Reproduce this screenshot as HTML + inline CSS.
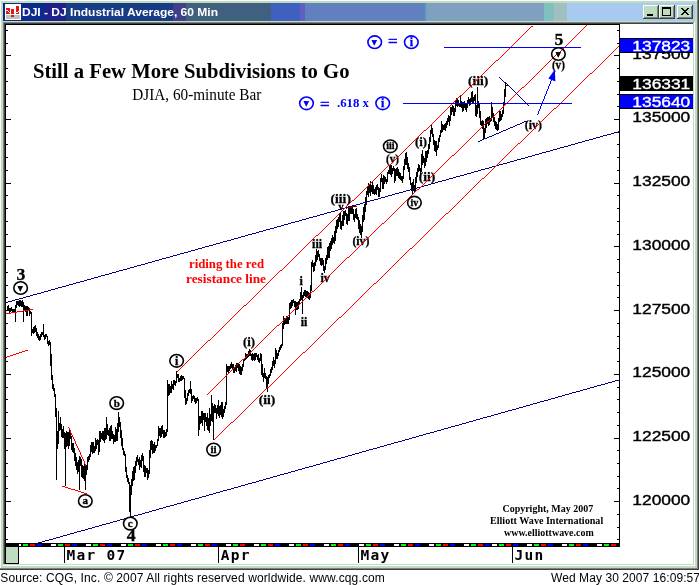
<!DOCTYPE html>
<html lang="en"><head><meta charset="utf-8"><title>DJI - DJ Industrial Average, 60 Min</title>
<style>
html,body{margin:0;padding:0;background:#fff;}
body{width:699px;height:585px;overflow:hidden;}
svg{display:block;}
text{white-space:pre;}
.sans{font-family:"Liberation Sans",Arial,sans-serif;}
.serif{font-family:"Liberation Serif","Times New Roman",serif;}
.mono{font-family:"Liberation Mono","DejaVu Sans Mono",monospace;}
.b{font-weight:bold;}
.monob{font-family:"DejaVu Sans Mono","Liberation Mono",monospace;font-weight:bold;}
</style></head><body>
<svg width="699" height="585" viewBox="0 0 699 585">
<g shape-rendering="crispEdges">
<rect x="0" y="0" width="699" height="585" fill="#ffffff" />
<rect x="0" y="0" width="699" height="570" fill="#c0dcc0" />
<rect x="0" y="0" width="699" height="1" fill="#ffffff" />
<rect x="0" y="0" width="1" height="569" fill="#ffffff" />
<rect x="697" y="0" width="1" height="570" fill="#808080" />
<rect x="698" y="0" width="1" height="570" fill="#404040" />
<rect x="0" y="568" width="698" height="1" fill="#808080" />
<rect x="0" y="569" width="699" height="1" fill="#404040" />
<rect x="0" y="570" width="699" height="15" fill="#ffffff" />
<rect x="3" y="22" width="692" height="544" fill="#ffffff" />
<rect x="3" y="22" width="691" height="1" fill="#808080" />
<rect x="3" y="22" width="1" height="543" fill="#808080" />
<rect x="4" y="23" width="689" height="1" fill="#404040" />
<rect x="4" y="23" width="1" height="541" fill="#404040" />
<rect x="3" y="564" width="691" height="1" fill="#c0dcc0" />
<rect x="693" y="23" width="1" height="542" fill="#c0dcc0" />
<rect x="5" y="24" width="615" height="1" fill="#000000" />
<rect x="5" y="24" width="1" height="540" fill="#000000" />
<rect x="3" y="3" width="42" height="18" fill="#0c2a8c" />
<rect x="45" y="3" width="21" height="18" fill="#20208c" />
<rect x="66" y="3" width="107" height="18" fill="#183c84" />
<rect x="173" y="3" width="13" height="18" fill="#404088" />
<rect x="186" y="3" width="85" height="18" fill="#406080" />
<rect x="271" y="3" width="29" height="18" fill="#4060c0" />
<rect x="300" y="3" width="5" height="18" fill="#6060c0" />
<rect x="305" y="3" width="120" height="18" fill="#6080c0" />
<rect x="425" y="3" width="2" height="18" fill="#60a0c0" />
<rect x="427" y="3" width="117" height="18" fill="#80a0c0" />
<rect x="544" y="3" width="10" height="18" fill="#80c0c0" />
<rect x="554" y="3" width="13" height="18" fill="#a0c0c0" />
<rect x="567" y="3" width="128" height="18" fill="#a6caf0" />
</g>
<g shape-rendering="crispEdges">
<rect x="5" y="4" width="16" height="16" fill="#ffffff" />
<rect x="6" y="15" width="14" height="4" fill="#c0c0c0" />
<rect x="6" y="8" width="4" height="6" fill="#e01818" />
<rect x="11" y="9" width="3" height="5" fill="#e01818" />
<rect x="16" y="6" width="3" height="8" fill="#e01818" />
<rect x="11" y="15" width="3" height="2" fill="#e01818" />
<rect x="6" y="10" width="2" height="1" fill="#e8f4e8" />
<rect x="8" y="11" width="1" height="1" fill="#e8f4e8" />
<rect x="9" y="12" width="1" height="1" fill="#e8f4e8" />
<rect x="10" y="13" width="1" height="1" fill="#e8f4e8" />
<rect x="11" y="14" width="3" height="1" fill="#e8f4e8" />
<rect x="14" y="13" width="2" height="1" fill="#e8f4e8" />
<rect x="16" y="12" width="2" height="1" fill="#e8f4e8" />
<rect x="18" y="11" width="2" height="1" fill="#e8f4e8" />
</g>
<text x="22" y="16" class="sans b" font-size="11.3" fill="#ffffff" textLength="196" lengthAdjust="spacingAndGlyphs">DJI - DJ Industrial Average, 60 Min</text>
<g shape-rendering="crispEdges">
<rect x="643" y="5" width="16" height="14" fill="#404040" />
<rect x="643" y="5" width="15" height="13" fill="#ffffff" />
<rect x="644" y="6" width="14" height="12" fill="#808080" />
<rect x="644" y="6" width="13" height="11" fill="#c0dcc0" />
</g>
<g shape-rendering="crispEdges">
<rect x="659" y="5" width="16" height="14" fill="#404040" />
<rect x="659" y="5" width="15" height="13" fill="#ffffff" />
<rect x="660" y="6" width="14" height="12" fill="#808080" />
<rect x="660" y="6" width="13" height="11" fill="#c0dcc0" />
</g>
<g shape-rendering="crispEdges">
<rect x="677" y="5" width="16" height="14" fill="#404040" />
<rect x="677" y="5" width="15" height="13" fill="#ffffff" />
<rect x="678" y="6" width="14" height="12" fill="#808080" />
<rect x="678" y="6" width="13" height="11" fill="#c0dcc0" />
</g>
<g shape-rendering="crispEdges">
<rect x="647" y="14" width="6" height="2" fill="#000" />
<rect x="662" y="7" width="9" height="9" fill="#000" />
<rect x="663" y="9" width="7" height="6" fill="#c0dcc0" />
</g>
<g shape-rendering="crispEdges">
<rect x="681" y="8" width="2" height="1" fill="#000" />
<rect x="687" y="8" width="2" height="1" fill="#000" />
<rect x="682" y="9" width="2" height="1" fill="#000" />
<rect x="686" y="9" width="2" height="1" fill="#000" />
<rect x="683" y="10" width="4" height="1" fill="#000" />
<rect x="684" y="11" width="2" height="1" fill="#000" />
<rect x="683" y="12" width="4" height="1" fill="#000" />
<rect x="682" y="13" width="2" height="1" fill="#000" />
<rect x="686" y="13" width="2" height="1" fill="#000" />
<rect x="681" y="14" width="2" height="1" fill="#000" />
<rect x="687" y="14" width="2" height="1" fill="#000" />
</g>
<g shape-rendering="crispEdges">
<rect x="619" y="24" width="1" height="523" fill="#000" />
<rect x="617" y="539" width="2" height="1" fill="#000" />
<rect x="6" y="539" width="2" height="1" fill="#000" />
<rect x="617" y="527" width="2" height="1" fill="#000" />
<rect x="6" y="527" width="2" height="1" fill="#000" />
<rect x="617" y="514" width="2" height="1" fill="#000" />
<rect x="6" y="514" width="2" height="1" fill="#000" />
<rect x="614" y="501" width="5" height="1" fill="#000" />
<rect x="6" y="501" width="5" height="1" fill="#000" />
<rect x="617" y="488" width="2" height="1" fill="#000" />
<rect x="6" y="488" width="2" height="1" fill="#000" />
<rect x="617" y="476" width="2" height="1" fill="#000" />
<rect x="6" y="476" width="2" height="1" fill="#000" />
<rect x="617" y="463" width="2" height="1" fill="#000" />
<rect x="6" y="463" width="2" height="1" fill="#000" />
<rect x="617" y="450" width="2" height="1" fill="#000" />
<rect x="6" y="450" width="2" height="1" fill="#000" />
<rect x="614" y="438" width="5" height="1" fill="#000" />
<rect x="6" y="438" width="5" height="1" fill="#000" />
<rect x="617" y="425" width="2" height="1" fill="#000" />
<rect x="6" y="425" width="2" height="1" fill="#000" />
<rect x="617" y="412" width="2" height="1" fill="#000" />
<rect x="6" y="412" width="2" height="1" fill="#000" />
<rect x="617" y="399" width="2" height="1" fill="#000" />
<rect x="6" y="399" width="2" height="1" fill="#000" />
<rect x="617" y="387" width="2" height="1" fill="#000" />
<rect x="6" y="387" width="2" height="1" fill="#000" />
<rect x="614" y="374" width="5" height="1" fill="#000" />
<rect x="6" y="374" width="5" height="1" fill="#000" />
<rect x="617" y="361" width="2" height="1" fill="#000" />
<rect x="6" y="361" width="2" height="1" fill="#000" />
<rect x="617" y="348" width="2" height="1" fill="#000" />
<rect x="6" y="348" width="2" height="1" fill="#000" />
<rect x="617" y="336" width="2" height="1" fill="#000" />
<rect x="6" y="336" width="2" height="1" fill="#000" />
<rect x="617" y="323" width="2" height="1" fill="#000" />
<rect x="6" y="323" width="2" height="1" fill="#000" />
<rect x="614" y="310" width="5" height="1" fill="#000" />
<rect x="6" y="310" width="5" height="1" fill="#000" />
<rect x="617" y="297" width="2" height="1" fill="#000" />
<rect x="6" y="297" width="2" height="1" fill="#000" />
<rect x="617" y="285" width="2" height="1" fill="#000" />
<rect x="6" y="285" width="2" height="1" fill="#000" />
<rect x="617" y="272" width="2" height="1" fill="#000" />
<rect x="6" y="272" width="2" height="1" fill="#000" />
<rect x="617" y="259" width="2" height="1" fill="#000" />
<rect x="6" y="259" width="2" height="1" fill="#000" />
<rect x="614" y="246" width="5" height="1" fill="#000" />
<rect x="6" y="246" width="5" height="1" fill="#000" />
<rect x="617" y="234" width="2" height="1" fill="#000" />
<rect x="6" y="234" width="2" height="1" fill="#000" />
<rect x="617" y="221" width="2" height="1" fill="#000" />
<rect x="6" y="221" width="2" height="1" fill="#000" />
<rect x="617" y="208" width="2" height="1" fill="#000" />
<rect x="6" y="208" width="2" height="1" fill="#000" />
<rect x="617" y="195" width="2" height="1" fill="#000" />
<rect x="6" y="195" width="2" height="1" fill="#000" />
<rect x="614" y="183" width="5" height="1" fill="#000" />
<rect x="6" y="183" width="5" height="1" fill="#000" />
<rect x="617" y="170" width="2" height="1" fill="#000" />
<rect x="6" y="170" width="2" height="1" fill="#000" />
<rect x="617" y="157" width="2" height="1" fill="#000" />
<rect x="6" y="157" width="2" height="1" fill="#000" />
<rect x="617" y="144" width="2" height="1" fill="#000" />
<rect x="6" y="144" width="2" height="1" fill="#000" />
<rect x="617" y="132" width="2" height="1" fill="#000" />
<rect x="6" y="132" width="2" height="1" fill="#000" />
<rect x="614" y="119" width="5" height="1" fill="#000" />
<rect x="6" y="119" width="5" height="1" fill="#000" />
<rect x="617" y="106" width="2" height="1" fill="#000" />
<rect x="6" y="106" width="2" height="1" fill="#000" />
<rect x="617" y="94" width="2" height="1" fill="#000" />
<rect x="6" y="94" width="2" height="1" fill="#000" />
<rect x="617" y="81" width="2" height="1" fill="#000" />
<rect x="6" y="81" width="2" height="1" fill="#000" />
<rect x="617" y="68" width="2" height="1" fill="#000" />
<rect x="6" y="68" width="2" height="1" fill="#000" />
<rect x="614" y="55" width="5" height="1" fill="#000" />
<rect x="6" y="55" width="5" height="1" fill="#000" />
<rect x="617" y="43" width="2" height="1" fill="#000" />
<rect x="6" y="43" width="2" height="1" fill="#000" />
<rect x="617" y="30" width="2" height="1" fill="#000" />
<rect x="6" y="30" width="2" height="1" fill="#000" />
<rect x="5" y="543" width="615" height="4" fill="#000" />
<rect x="19" y="544" width="2" height="2" fill="#ffffff" />
<rect x="23" y="544" width="5" height="2" fill="#00ff00" />
<rect x="30" y="544" width="5" height="2" fill="#ff0000" />
<rect x="37" y="544" width="5" height="2" fill="#0000ff" />
<rect x="51" y="544" width="5" height="2" fill="#ffffff" />
<rect x="58" y="544" width="5" height="2" fill="#00ff00" />
<rect x="65" y="544" width="5" height="2" fill="#ff0000" />
<rect x="72" y="544" width="5" height="2" fill="#0000ff" />
<rect x="86" y="544" width="5" height="2" fill="#ffffff" />
<rect x="93" y="544" width="5" height="2" fill="#00ff00" />
<rect x="100" y="544" width="5" height="2" fill="#ff0000" />
<rect x="107" y="544" width="5" height="2" fill="#0000ff" />
<rect x="121" y="544" width="5" height="2" fill="#ffffff" />
<rect x="128" y="544" width="5" height="2" fill="#00ff00" />
<rect x="135" y="544" width="5" height="2" fill="#ff0000" />
<rect x="142" y="544" width="5" height="2" fill="#0000ff" />
<rect x="156" y="544" width="5" height="2" fill="#ffffff" />
<rect x="163" y="544" width="5" height="2" fill="#00ff00" />
<rect x="170" y="544" width="5" height="2" fill="#ff0000" />
<rect x="177" y="544" width="5" height="2" fill="#0000ff" />
<rect x="191" y="544" width="5" height="2" fill="#ffffff" />
<rect x="198" y="544" width="5" height="2" fill="#00ff00" />
<rect x="205" y="544" width="5" height="2" fill="#ff0000" />
<rect x="212" y="544" width="5" height="2" fill="#0000ff" />
<rect x="226" y="544" width="5" height="2" fill="#ffffff" />
<rect x="233" y="544" width="5" height="2" fill="#00ff00" />
<rect x="240" y="544" width="5" height="2" fill="#ff0000" />
<rect x="254" y="544" width="5" height="2" fill="#ffffff" />
<rect x="261" y="544" width="5" height="2" fill="#00ff00" />
<rect x="268" y="544" width="5" height="2" fill="#ff0000" />
<rect x="275" y="544" width="5" height="2" fill="#0000ff" />
<rect x="289" y="544" width="5" height="2" fill="#ffffff" />
<rect x="296" y="544" width="5" height="2" fill="#00ff00" />
<rect x="303" y="544" width="5" height="2" fill="#ff0000" />
<rect x="310" y="544" width="5" height="2" fill="#0000ff" />
<rect x="324" y="544" width="5" height="2" fill="#ffffff" />
<rect x="331" y="544" width="5" height="2" fill="#00ff00" />
<rect x="338" y="544" width="5" height="2" fill="#ff0000" />
<rect x="345" y="544" width="5" height="2" fill="#0000ff" />
<rect x="359" y="544" width="5" height="2" fill="#ffffff" />
<rect x="366" y="544" width="5" height="2" fill="#00ff00" />
<rect x="373" y="544" width="5" height="2" fill="#ff0000" />
<rect x="380" y="544" width="5" height="2" fill="#0000ff" />
<rect x="394" y="544" width="5" height="2" fill="#ffffff" />
<rect x="401" y="544" width="5" height="2" fill="#00ff00" />
<rect x="408" y="544" width="5" height="2" fill="#ff0000" />
<rect x="415" y="544" width="5" height="2" fill="#0000ff" />
<rect x="429" y="544" width="5" height="2" fill="#ffffff" />
<rect x="436" y="544" width="5" height="2" fill="#00ff00" />
<rect x="443" y="544" width="5" height="2" fill="#ff0000" />
<rect x="450" y="544" width="5" height="2" fill="#0000ff" />
<rect x="464" y="544" width="5" height="2" fill="#ffffff" />
<rect x="471" y="544" width="5" height="2" fill="#00ff00" />
<rect x="478" y="544" width="5" height="2" fill="#ff0000" />
<rect x="485" y="544" width="5" height="2" fill="#0000ff" />
<rect x="492" y="544" width="5" height="2" fill="#ffffff" />
<rect x="499" y="544" width="5" height="2" fill="#00ff00" />
<rect x="506" y="544" width="5" height="2" fill="#ff0000" />
<rect x="513" y="544" width="5" height="2" fill="#0000ff" />
<rect x="527" y="544" width="5" height="2" fill="#ffffff" />
<rect x="534" y="544" width="5" height="2" fill="#00ff00" />
<rect x="541" y="544" width="5" height="2" fill="#ff0000" />
<rect x="548" y="544" width="5" height="2" fill="#0000ff" />
<rect x="562" y="544" width="5" height="2" fill="#ffffff" />
<rect x="569" y="544" width="5" height="2" fill="#00ff00" />
<rect x="576" y="544" width="5" height="2" fill="#ff0000" />
<rect x="583" y="544" width="5" height="2" fill="#0000ff" />
<rect x="597" y="544" width="5" height="2" fill="#ffffff" />
<rect x="604" y="544" width="5" height="2" fill="#00ff00" />
<rect x="611" y="544" width="5" height="2" fill="#ff0000" />
<rect x="6" y="547" width="13" height="17" fill="#000" />
<rect x="6" y="547" width="12" height="16" fill="#c0dcc0" />
<rect x="64" y="547" width="1" height="16" fill="#000" />
<rect x="218" y="547" width="1" height="16" fill="#000" />
<rect x="358" y="547" width="1" height="16" fill="#000" />
<rect x="512" y="547" width="1" height="16" fill="#000" />
</g>
<text x="66.5" y="559.6" class="monob" font-size="14.5" fill="#000" letter-spacing="1.25">Mar 07</text>
<text x="220.7" y="559.6" class="monob" font-size="14.5" fill="#000" letter-spacing="1.25">Apr</text>
<text x="360.5" y="559.6" class="monob" font-size="14.5" fill="#000" letter-spacing="1.25">May</text>
<text x="514.5" y="559.6" class="monob" font-size="14.5" fill="#000" letter-spacing="1.25">Jun</text>
<text x="632.3" y="122.4" class="sans" font-size="15.5" fill="#000" stroke="#000" stroke-width="0.4" textLength="58" lengthAdjust="spacingAndGlyphs">135000</text>
<text x="632.3" y="186.1" class="sans" font-size="15.5" fill="#000" stroke="#000" stroke-width="0.4" textLength="58" lengthAdjust="spacingAndGlyphs">132500</text>
<text x="632.3" y="249.8" class="sans" font-size="15.5" fill="#000" stroke="#000" stroke-width="0.4" textLength="58" lengthAdjust="spacingAndGlyphs">130000</text>
<text x="632.3" y="313.5" class="sans" font-size="15.5" fill="#000" stroke="#000" stroke-width="0.4" textLength="58" lengthAdjust="spacingAndGlyphs">127500</text>
<text x="632.3" y="377.2" class="sans" font-size="15.5" fill="#000" stroke="#000" stroke-width="0.4" textLength="58" lengthAdjust="spacingAndGlyphs">125000</text>
<text x="632.3" y="440.9" class="sans" font-size="15.5" fill="#000" stroke="#000" stroke-width="0.4" textLength="58" lengthAdjust="spacingAndGlyphs">122500</text>
<text x="632.3" y="504.6" class="sans" font-size="15.5" fill="#000" stroke="#000" stroke-width="0.4" textLength="58" lengthAdjust="spacingAndGlyphs">120000</text>
<text x="632.3" y="58.7" class="sans" font-size="15.5" fill="#000" stroke="#000" stroke-width="0.4" textLength="58" lengthAdjust="spacingAndGlyphs">137500</text>
<g shape-rendering="crispEdges">
<rect x="620" y="38" width="73" height="15" fill="#000" />
<rect x="620" y="39" width="73" height="13" fill="#0000ff" />
<rect x="620" y="76" width="73" height="15" fill="#000" />
<rect x="620" y="94" width="73" height="15" fill="#000" />
<rect x="620" y="95" width="73" height="13" fill="#0000ff" />
</g>
<text x="632.3" y="51.1" class="sans" font-size="15.5" fill="#fff" stroke="#fff" stroke-width="0.4" textLength="58" lengthAdjust="spacingAndGlyphs">137823</text>
<text x="632.3" y="89.1" class="sans" font-size="15.5" fill="#fff" stroke="#fff" stroke-width="0.4" textLength="58" lengthAdjust="spacingAndGlyphs">136331</text>
<text x="632.3" y="107.1" class="sans" font-size="15.5" fill="#fff" stroke="#fff" stroke-width="0.4" textLength="58" lengthAdjust="spacingAndGlyphs">135640</text>
<text x="0.3" y="581.5" class="sans" font-size="12" fill="#000" textLength="384.5">Source: CQG, Inc. © 2007 All rights reserved worldwide. www.cqg.com</text>
<text x="551" y="581.5" class="sans" font-size="12" fill="#000" textLength="149">Wed May 30 2007 16:09:57</text>
<defs><clipPath id="plot"><rect x="6" y="25" width="613" height="518"/></clipPath></defs>
<g clip-path="url(#plot)">
<path stroke="#000" stroke-width="1" fill="none" shape-rendering="crispEdges" d="M7.5 306V311M8.5 305V311M9.5 308V313M10.5 308V312M11.5 307V311M12.5 309V312M13.5 309V313M14.5 309V313M15.5 305V322M16.5 301V308M17.5 301V305M18.5 301V306M19.5 300V307M20.5 300V306M21.5 301V307M22.5 300V307M23.5 302V322M24.5 305V310M25.5 306V312M26.5 306V316M27.5 306V316M28.5 307V311M29.5 308V316M30.5 311V314M31.5 312V336M32.5 329V333M33.5 327V334M34.5 326V333M35.5 325V332M36.5 328V336M37.5 332V338M38.5 334V340M39.5 336V341M40.5 334V340M41.5 332V337M42.5 332V335M43.5 324V337M44.5 335V340M45.5 334V339M46.5 334V337M47.5 336V344M48.5 341V346M49.5 340V345M50.5 342V366M51.5 354V380M52.5 375V389M53.5 384V391M54.5 388V397M55.5 394V417M56.5 408V480M57.5 431V449M58.5 411V444M59.5 423V431M60.5 417V430M61.5 424V437M62.5 429V438M63.5 426V438M64.5 432V449M65.5 433V486M66.5 431V447M67.5 432V446M68.5 432V449M69.5 429V446M70.5 433V439M71.5 436V450M72.5 443V452M73.5 443V453M74.5 448V461M75.5 453V466M76.5 457V470M77.5 462V474M78.5 460V472M79.5 456V490M80.5 457V466M81.5 459V477M82.5 465V478M83.5 466V479M84.5 464V481M85.5 464V490M86.5 465V475M87.5 457V470M88.5 456V462M89.5 454V460M90.5 445V457M91.5 442V452M92.5 442V454M93.5 442V453M94.5 446V453M95.5 438V451M96.5 440V449M97.5 439V445M98.5 440V455M99.5 431V452M100.5 431V442M101.5 433V439M102.5 431V440M103.5 431V441M104.5 428V443M105.5 428V440M106.5 417V439M107.5 424V435M108.5 430V436M109.5 428V441M110.5 426V441M111.5 425V439M112.5 431V439M113.5 434V444M114.5 435V442M115.5 427V442M116.5 429V441M117.5 423V441M118.5 412V432M119.5 417V427M120.5 422V438M121.5 430V446M122.5 438V450M123.5 448V455M124.5 451V456M125.5 454V472M126.5 467V478M127.5 475V482M128.5 478V484M129.5 482V512M130.5 485V517M131.5 479V495M132.5 471V486M133.5 467V481M134.5 466V480M135.5 461V473M136.5 457V466M137.5 455V462M138.5 459V465M139.5 457V470M140.5 460V467M141.5 455V468M142.5 453V461M143.5 456V472M144.5 465V477M145.5 466V477M146.5 468V473M147.5 468V480M148.5 470V478M149.5 450V474M150.5 441V458M151.5 440V450M152.5 441V454M153.5 444V453M154.5 442V453M155.5 445V451M156.5 445V448M157.5 439V446M158.5 426V441M159.5 428V436M160.5 428V438M161.5 426V437M162.5 425V434M163.5 430V438M164.5 430V438M165.5 432V437M166.5 429V436M167.5 380V432M168.5 384V396M169.5 384V395M170.5 386V393M171.5 381V393M172.5 384V389M173.5 380V390M174.5 380V385M175.5 381V386M176.5 371V383M177.5 374V378M178.5 374V382M179.5 378V382M180.5 376V381M181.5 375V381M182.5 376V380M183.5 376V379M184.5 378V398M185.5 390V405M186.5 398V404M187.5 393V401M188.5 390V396M189.5 389V393M190.5 381V394M191.5 389V403M192.5 396V401M193.5 395V399M194.5 396V402M195.5 398V404M196.5 398V403M197.5 397V401M198.5 399V436M199.5 416V430M200.5 416V424M201.5 411V423M202.5 411V426M203.5 413V420M204.5 413V431M205.5 413V422M206.5 417V426M207.5 413V430M208.5 418V431M209.5 408V433M210.5 414V426M211.5 395V421M212.5 403V422M213.5 406V440M214.5 404V413M215.5 405V413M216.5 408V419M217.5 405V414M218.5 400V416M219.5 406V418M220.5 405V415M221.5 402V417M222.5 402V419M223.5 409V417M224.5 406V413M225.5 402V409M226.5 364V405M227.5 366V372M228.5 366V374M229.5 366V371M230.5 364V369M231.5 362V368M232.5 364V370M233.5 364V373M234.5 368V373M235.5 365V371M236.5 363V372M237.5 363V368M238.5 363V371M239.5 364V374M240.5 366V375M241.5 367V375M242.5 364V371M243.5 359V367M244.5 358V361M245.5 353V360M246.5 354V359M247.5 354V358M248.5 351V357M249.5 349V356M250.5 350V356M251.5 354V360M252.5 353V361M253.5 354V360M254.5 353V361M255.5 353V360M256.5 353V357M257.5 355V360M258.5 354V362M259.5 358V363M260.5 353V361M261.5 354V375M262.5 364V377M263.5 373V382M264.5 368V378M265.5 373V379M266.5 376V388M267.5 377V392M268.5 375V384M269.5 374V378M270.5 369V376M271.5 367V373M272.5 361V370M273.5 357V366M274.5 360V368M275.5 348V364M276.5 350V359M277.5 353V359M278.5 350V356M279.5 347V352M280.5 345V350M281.5 344V348M282.5 323V346M283.5 316V329M284.5 318V325M285.5 318V324M286.5 316V324M287.5 316V324M288.5 317V324M289.5 303V320M290.5 302V309M291.5 300V308M292.5 300V306M293.5 299V303M294.5 301V307M295.5 301V315M296.5 302V310M297.5 302V310M298.5 301V309M299.5 299V305M300.5 292V301M301.5 287V300M302.5 295V314M303.5 292V298M304.5 290V296M305.5 290V297M306.5 291V298M307.5 291V298M308.5 292V299M309.5 293V300M310.5 285V298M311.5 262V291M312.5 260V267M313.5 263V272M314.5 262V271M315.5 255V266M316.5 249V262M317.5 251V260M318.5 250V257M319.5 254V261M320.5 258V265M321.5 258V266M322.5 258V265M323.5 260V271M324.5 266V273M325.5 258V270M326.5 255V264M327.5 247V260M328.5 246V258M329.5 243V258M330.5 241V251M331.5 238V249M332.5 235V245M333.5 237V243M334.5 231V244M335.5 226V241M336.5 220V233M337.5 219V229M338.5 217V227M339.5 214V222M340.5 213V229M341.5 221V230M342.5 215V226M343.5 211V226M344.5 211V220M345.5 210V216M346.5 213V224M347.5 214V225M348.5 206V221M349.5 208V221M350.5 206V214M351.5 206V214M352.5 207V214M353.5 209V220M354.5 214V222M355.5 209V218M356.5 208V219M357.5 214V220M358.5 217V229M359.5 220V233M360.5 224V235M361.5 226V238M362.5 215V232M363.5 207V222M364.5 204V220M365.5 197V212M366.5 191V205M367.5 186V195M368.5 183V197M369.5 185V193M370.5 181V196M371.5 185V192M372.5 182V194M373.5 185V194M374.5 189V195M375.5 187V194M376.5 185V195M377.5 184V190M378.5 187V197M379.5 188V197M380.5 178V192M381.5 174V182M382.5 178V189M383.5 175V189M384.5 176V184M385.5 177V182M386.5 179V184M387.5 172V182M388.5 170V174M389.5 166V174M390.5 165V175M391.5 165V177M392.5 168V174M393.5 166V171M394.5 168V183M395.5 169V181M396.5 168V176M397.5 167V176M398.5 169V178M399.5 172V179M400.5 173V180M401.5 176V181M402.5 176V183M403.5 166V179M404.5 159V170M405.5 153V165M406.5 152V165M407.5 157V169M408.5 163V172M409.5 167V180M410.5 177V185M411.5 183V191M412.5 182V194M413.5 179V191M414.5 185V193M415.5 177V191M416.5 172V183M417.5 168V177M418.5 164V172M419.5 165V171M420.5 168V175M421.5 154V172M422.5 150V165M423.5 156V163M424.5 158V168M425.5 151V166M426.5 151V162M427.5 150V158M428.5 144V154M429.5 137V149M430.5 130V142M431.5 124V134M432.5 128V137M433.5 134V145M434.5 140V151M435.5 141V152M436.5 141V156M437.5 145V150M438.5 138V148M439.5 135V142M440.5 130V137M441.5 121V133M442.5 124V132M443.5 125V130M444.5 124V130M445.5 123V131M446.5 121V128M447.5 118V125M448.5 115V122M449.5 116V126M450.5 107V121M451.5 107V115M452.5 105V112M453.5 106V116M454.5 108V116M455.5 101V112M456.5 98V106M457.5 98V107M458.5 100V106M459.5 103V107M460.5 96V107M461.5 101V108M462.5 102V112M463.5 102V111M464.5 101V108M465.5 103V110M466.5 104V112M467.5 100V108M468.5 97V103M469.5 99V106M470.5 98V105M471.5 92V102M472.5 91V103M473.5 97V103M474.5 95V101M475.5 94V116M476.5 105V117M477.5 87V114M478.5 101V108M479.5 104V118M480.5 111V125M481.5 121V126M482.5 120V129M483.5 121V139M484.5 128V138M485.5 119V133M486.5 118V128M487.5 117V124M488.5 117V126M489.5 116V125M490.5 118V122M491.5 102V121M492.5 107V118M493.5 113V122M494.5 117V126M495.5 121V129M496.5 122V130M497.5 124V131M498.5 118V130M499.5 110V122M500.5 111V121M501.5 114V120M502.5 110V117M503.5 102V114M504.5 89V106M505.5 83V97"/>
<path fill="#000" shape-rendering="crispEdges" d="M506 85h2v1h-2z"/>
<text x="21" y="280" text-anchor="middle" class="serif b" font-size="17.7" fill="#000" stroke="#000" stroke-width="0.3">3</text>
<text x="131.2" y="541" text-anchor="middle" class="serif b" font-size="17.7" fill="#000" stroke="#000" stroke-width="0.3">4</text>
<text x="243.1" y="346" class="serif b" font-size="13.5" fill="#000" stroke="#000" stroke-width="0.3" textLength="12" lengthAdjust="spacingAndGlyphs">(i)</text>
<text x="258.8" y="404.3" class="serif b" font-size="13.5" fill="#000" stroke="#000" stroke-width="0.3" textLength="16.5" lengthAdjust="spacingAndGlyphs">(ii)</text>
<text x="301.2" y="285" text-anchor="middle" class="serif b" font-size="12" fill="#000" stroke="#000" stroke-width="0.3">i</text>
<text x="304.1" y="325.5" text-anchor="middle" class="serif b" font-size="12" fill="#000" stroke="#000" stroke-width="0.3">ii</text>
<text x="317.1" y="248" text-anchor="middle" class="serif b" font-size="12" fill="#000" stroke="#000" stroke-width="0.3">iii</text>
<text x="325.2" y="281.5" text-anchor="middle" class="serif b" font-size="12" fill="#000" stroke="#000" stroke-width="0.3">iv</text>
<text x="330.6" y="203.3" class="serif b" font-size="13.5" fill="#000" stroke="#000" stroke-width="0.3" textLength="20.3" lengthAdjust="spacingAndGlyphs">(iii)</text>
<text x="341" y="210" text-anchor="middle" class="serif b" font-size="10" fill="#000" stroke="#000" stroke-width="0.3">v</text>
<text x="352.4" y="244.5" class="serif b" font-size="13.5" fill="#000" stroke="#000" stroke-width="0.3" textLength="17.1" lengthAdjust="spacingAndGlyphs">(iv)</text>
<text x="386.0" y="162.5" class="serif b" font-size="13.5" fill="#000" stroke="#000" stroke-width="0.3" textLength="13" lengthAdjust="spacingAndGlyphs">(v)</text>
<text x="415.0" y="146.3" class="serif b" font-size="13.5" fill="#000" stroke="#000" stroke-width="0.3" textLength="12" lengthAdjust="spacingAndGlyphs">(i)</text>
<text x="418.8" y="180.7" class="serif b" font-size="13.5" fill="#000" stroke="#000" stroke-width="0.3" textLength="16.5" lengthAdjust="spacingAndGlyphs">(ii)</text>
<text x="467.9" y="85.4" class="serif b" font-size="13.5" fill="#000" stroke="#000" stroke-width="0.3" textLength="20.3" lengthAdjust="spacingAndGlyphs">(iii)</text>
<text x="524.8" y="129" class="serif b" font-size="13.5" fill="#000" stroke="#000" stroke-width="0.3" textLength="17.1" lengthAdjust="spacingAndGlyphs">(iv)</text>
<text x="559" y="44.8" text-anchor="middle" class="serif b" font-size="17.7" fill="#000" stroke="#000" stroke-width="0.3">5</text>
<text x="551.9" y="69" class="serif b" font-size="13.5" fill="#000" stroke="#000" stroke-width="0.3" textLength="13" lengthAdjust="spacingAndGlyphs">(v)</text>
<text x="392.8" y="47.2" text-anchor="middle" class="serif" font-size="17" fill="#0000ff" stroke="#0000ff" stroke-width="0.5">=</text>
<text x="324.8" y="109.6" text-anchor="middle" class="serif" font-size="17" fill="#0000ff" stroke="#0000ff" stroke-width="0.5">=</text>
<text x="337" y="107" class="serif b" font-size="13" fill="#0000ff" textLength="32" lengthAdjust="spacingAndGlyphs">.618 x</text>
<path fill="#000080" shape-rendering="crispEdges" d="M6 302h2v1h-2zM8 301h4v1h-4zM12 300h3v1h-3zM15 299h4v1h-4zM19 298h4v1h-4zM23 297h3v1h-3zM26 296h4v1h-4zM30 295h3v1h-3zM33 294h4v1h-4zM37 293h4v1h-4zM41 292h3v1h-3zM44 291h4v1h-4zM48 290h3v1h-3zM51 289h4v1h-4zM55 288h3v1h-3zM58 287h4v1h-4zM62 286h4v1h-4zM66 285h3v1h-3zM69 284h4v1h-4zM73 283h3v1h-3zM76 282h4v1h-4zM80 281h4v1h-4zM84 280h3v1h-3zM87 279h4v1h-4zM91 278h3v1h-3zM94 277h4v1h-4zM98 276h3v1h-3zM101 275h4v1h-4zM105 274h4v1h-4zM109 273h3v1h-3zM112 272h4v1h-4zM116 271h3v1h-3zM119 270h4v1h-4zM123 269h4v1h-4zM127 268h3v1h-3zM130 267h4v1h-4zM134 266h3v1h-3zM137 265h4v1h-4zM141 264h4v1h-4zM145 263h3v1h-3zM148 262h4v1h-4zM152 261h3v1h-3zM155 260h4v1h-4zM159 259h3v1h-3zM162 258h4v1h-4zM166 257h4v1h-4zM170 256h3v1h-3zM173 255h4v1h-4zM177 254h3v1h-3zM180 253h4v1h-4zM184 252h4v1h-4zM188 251h3v1h-3zM191 250h4v1h-4zM195 249h3v1h-3zM198 248h4v1h-4zM202 247h3v1h-3zM205 246h4v1h-4zM209 245h4v1h-4zM213 244h3v1h-3zM216 243h4v1h-4zM220 242h3v1h-3zM223 241h4v1h-4zM227 240h4v1h-4zM231 239h3v1h-3zM234 238h4v1h-4zM238 237h3v1h-3zM241 236h4v1h-4zM245 235h3v1h-3zM248 234h4v1h-4zM252 233h4v1h-4zM256 232h3v1h-3zM259 231h4v1h-4zM263 230h3v1h-3zM266 229h4v1h-4zM270 228h4v1h-4zM274 227h3v1h-3zM277 226h4v1h-4zM281 225h3v1h-3zM284 224h4v1h-4zM288 223h3v1h-3zM291 222h4v1h-4zM295 221h4v1h-4zM299 220h3v1h-3zM302 219h4v1h-4zM306 218h3v1h-3zM309 217h4v1h-4zM313 216h4v1h-4zM317 215h3v1h-3zM320 214h4v1h-4zM324 213h3v1h-3zM327 212h4v1h-4zM331 211h4v1h-4zM335 210h3v1h-3zM338 209h4v1h-4zM342 208h3v1h-3zM345 207h4v1h-4zM349 206h3v1h-3zM352 205h4v1h-4zM356 204h4v1h-4zM360 203h3v1h-3zM363 202h4v1h-4zM367 201h3v1h-3zM370 200h4v1h-4zM374 199h4v1h-4zM378 198h3v1h-3zM381 197h4v1h-4zM385 196h3v1h-3zM388 195h4v1h-4zM392 194h3v1h-3zM395 193h4v1h-4zM399 192h4v1h-4zM403 191h3v1h-3zM406 190h4v1h-4zM410 189h3v1h-3zM413 188h4v1h-4zM417 187h4v1h-4zM421 186h3v1h-3zM424 185h4v1h-4zM428 184h3v1h-3zM431 183h4v1h-4zM435 182h3v1h-3zM438 181h4v1h-4zM442 180h4v1h-4zM446 179h3v1h-3zM449 178h4v1h-4zM453 177h3v1h-3zM456 176h4v1h-4zM460 175h4v1h-4zM464 174h3v1h-3zM467 173h4v1h-4zM471 172h3v1h-3zM474 171h4v1h-4zM478 170h3v1h-3zM481 169h4v1h-4zM485 168h4v1h-4zM489 167h3v1h-3zM492 166h4v1h-4zM496 165h3v1h-3zM499 164h4v1h-4zM503 163h4v1h-4zM507 162h3v1h-3zM510 161h4v1h-4zM514 160h3v1h-3zM517 159h4v1h-4zM521 158h4v1h-4zM525 157h3v1h-3zM528 156h4v1h-4zM532 155h3v1h-3zM535 154h4v1h-4zM539 153h3v1h-3zM542 152h4v1h-4zM546 151h4v1h-4zM550 150h3v1h-3zM553 149h4v1h-4zM557 148h3v1h-3zM560 147h4v1h-4zM564 146h4v1h-4zM568 145h3v1h-3zM571 144h4v1h-4zM575 143h3v1h-3zM578 142h4v1h-4zM582 141h3v1h-3zM585 140h4v1h-4zM589 139h4v1h-4zM593 138h3v1h-3zM596 137h4v1h-4zM600 136h3v1h-3zM603 135h4v1h-4zM607 134h4v1h-4zM611 133h3v1h-3zM614 132h4v1h-4zM618 131h2v1h-2zM36 543h2v1h-2zM38 542h4v1h-4zM42 541h3v1h-3zM45 540h4v1h-4zM49 539h4v1h-4zM53 538h3v1h-3zM56 537h4v1h-4zM60 536h3v1h-3zM63 535h4v1h-4zM67 534h3v1h-3zM70 533h4v1h-4zM74 532h3v1h-3zM77 531h4v1h-4zM81 530h4v1h-4zM85 529h3v1h-3zM88 528h4v1h-4zM92 527h3v1h-3zM95 526h4v1h-4zM99 525h3v1h-3zM102 524h4v1h-4zM106 523h4v1h-4zM110 522h3v1h-3zM113 521h4v1h-4zM117 520h3v1h-3zM120 519h4v1h-4zM124 518h3v1h-3zM127 517h4v1h-4zM131 516h3v1h-3zM134 515h4v1h-4zM138 514h4v1h-4zM142 513h3v1h-3zM145 512h4v1h-4zM149 511h3v1h-3zM152 510h4v1h-4zM156 509h3v1h-3zM159 508h4v1h-4zM163 507h3v1h-3zM166 506h4v1h-4zM170 505h4v1h-4zM174 504h3v1h-3zM177 503h4v1h-4zM181 502h3v1h-3zM184 501h4v1h-4zM188 500h3v1h-3zM191 499h4v1h-4zM195 498h4v1h-4zM199 497h3v1h-3zM202 496h4v1h-4zM206 495h3v1h-3zM209 494h4v1h-4zM213 493h3v1h-3zM216 492h4v1h-4zM220 491h3v1h-3zM223 490h4v1h-4zM227 489h4v1h-4zM231 488h3v1h-3zM234 487h4v1h-4zM238 486h3v1h-3zM241 485h4v1h-4zM245 484h3v1h-3zM248 483h4v1h-4zM252 482h4v1h-4zM256 481h3v1h-3zM259 480h4v1h-4zM263 479h3v1h-3zM266 478h4v1h-4zM270 477h3v1h-3zM273 476h4v1h-4zM277 475h3v1h-3zM280 474h4v1h-4zM284 473h4v1h-4zM288 472h3v1h-3zM291 471h4v1h-4zM295 470h3v1h-3zM298 469h4v1h-4zM302 468h3v1h-3zM305 467h4v1h-4zM309 466h4v1h-4zM313 465h3v1h-3zM316 464h4v1h-4zM320 463h3v1h-3zM323 462h4v1h-4zM327 461h3v1h-3zM330 460h4v1h-4zM334 459h3v1h-3zM337 458h4v1h-4zM341 457h4v1h-4zM345 456h3v1h-3zM348 455h4v1h-4zM352 454h3v1h-3zM355 453h4v1h-4zM359 452h3v1h-3zM362 451h4v1h-4zM366 450h3v1h-3zM369 449h4v1h-4zM373 448h4v1h-4zM377 447h3v1h-3zM380 446h4v1h-4zM384 445h3v1h-3zM387 444h4v1h-4zM391 443h3v1h-3zM394 442h4v1h-4zM398 441h4v1h-4zM402 440h3v1h-3zM405 439h4v1h-4zM409 438h3v1h-3zM412 437h4v1h-4zM416 436h3v1h-3zM419 435h4v1h-4zM423 434h3v1h-3zM426 433h4v1h-4zM430 432h4v1h-4zM434 431h3v1h-3zM437 430h4v1h-4zM441 429h3v1h-3zM444 428h4v1h-4zM448 427h3v1h-3zM451 426h4v1h-4zM455 425h4v1h-4zM459 424h3v1h-3zM462 423h4v1h-4zM466 422h3v1h-3zM469 421h4v1h-4zM473 420h3v1h-3zM476 419h4v1h-4zM480 418h3v1h-3zM483 417h4v1h-4zM487 416h4v1h-4zM491 415h3v1h-3zM494 414h4v1h-4zM498 413h3v1h-3zM501 412h4v1h-4zM505 411h3v1h-3zM508 410h4v1h-4zM512 409h4v1h-4zM516 408h3v1h-3zM519 407h4v1h-4zM523 406h3v1h-3zM526 405h4v1h-4zM530 404h3v1h-3zM533 403h4v1h-4zM537 402h3v1h-3zM540 401h4v1h-4zM544 400h4v1h-4zM548 399h3v1h-3zM551 398h4v1h-4zM555 397h3v1h-3zM558 396h4v1h-4zM562 395h3v1h-3zM565 394h4v1h-4zM569 393h3v1h-3zM572 392h4v1h-4zM576 391h4v1h-4zM580 390h3v1h-3zM583 389h4v1h-4zM587 388h3v1h-3zM590 387h4v1h-4zM594 386h3v1h-3zM597 385h4v1h-4zM601 384h4v1h-4zM605 383h3v1h-3zM608 382h4v1h-4zM612 381h3v1h-3zM615 380h4v1h-4zM619 379h1v1h-1z"/>
<path fill="#ff0000" shape-rendering="crispEdges" d="M177 371h1v1h-1zM178 370h1v1h-1zM179 369h1v1h-1zM180 368h1v1h-1zM181 367h1v1h-1zM182 366h1v1h-1zM183 365h1v1h-1zM184 364h1v1h-1zM185 363h1v1h-1zM186 362h1v1h-1zM187 361h1v1h-1zM188 360h1v1h-1zM189 359h1v1h-1zM190 358h1v1h-1zM191 357h1v1h-1zM192 356h1v1h-1zM193 355h1v1h-1zM194 354h1v1h-1zM195 353h1v1h-1zM196 352h1v1h-1zM197 351h1v1h-1zM198 350h1v1h-1zM199 349h1v1h-1zM200 348h1v1h-1zM201 347h1v1h-1zM202 346h1v1h-1zM203 345h1v1h-1zM204 344h1v1h-1zM205 343h1v1h-1zM206 342h1v1h-1zM207 341h1v1h-1zM208 340h2v1h-2zM210 339h1v1h-1zM211 338h1v1h-1zM212 337h1v1h-1zM213 336h1v1h-1zM214 335h1v1h-1zM215 334h1v1h-1zM216 333h1v1h-1zM217 332h1v1h-1zM218 331h1v1h-1zM219 330h1v1h-1zM220 329h1v1h-1zM221 328h1v1h-1zM222 327h1v1h-1zM223 326h1v1h-1zM224 325h1v1h-1zM225 324h1v1h-1zM226 323h1v1h-1zM227 322h1v1h-1zM228 321h1v1h-1zM229 320h1v1h-1zM230 319h1v1h-1zM231 318h1v1h-1zM232 317h1v1h-1zM233 316h1v1h-1zM234 315h1v1h-1zM235 314h1v1h-1zM236 313h1v1h-1zM237 312h1v1h-1zM238 311h1v1h-1zM239 310h1v1h-1zM240 309h1v1h-1zM241 308h1v1h-1zM242 307h1v1h-1zM243 306h1v1h-1zM244 305h2v1h-2zM246 304h1v1h-1zM247 303h1v1h-1zM248 302h1v1h-1zM249 301h1v1h-1zM250 300h1v1h-1zM251 299h1v1h-1zM252 298h1v1h-1zM253 297h1v1h-1zM254 296h1v1h-1zM255 295h1v1h-1zM256 294h1v1h-1zM257 293h1v1h-1zM258 292h1v1h-1zM259 291h1v1h-1zM260 290h1v1h-1zM261 289h1v1h-1zM262 288h1v1h-1zM263 287h1v1h-1zM264 286h1v1h-1zM265 285h1v1h-1zM266 284h1v1h-1zM267 283h1v1h-1zM268 282h1v1h-1zM269 281h1v1h-1zM270 280h1v1h-1zM271 279h1v1h-1zM272 278h1v1h-1zM273 277h1v1h-1zM274 276h1v1h-1zM275 275h1v1h-1zM276 274h1v1h-1zM277 273h1v1h-1zM278 272h1v1h-1zM279 271h1v1h-1zM280 270h2v1h-2zM282 269h1v1h-1zM283 268h1v1h-1zM284 267h1v1h-1zM285 266h1v1h-1zM286 265h1v1h-1zM287 264h1v1h-1zM288 263h1v1h-1zM289 262h1v1h-1zM290 261h1v1h-1zM291 260h1v1h-1zM292 259h1v1h-1zM293 258h1v1h-1zM294 257h1v1h-1zM295 256h1v1h-1zM296 255h1v1h-1zM297 254h1v1h-1zM298 253h1v1h-1zM299 252h1v1h-1zM300 251h1v1h-1zM301 250h1v1h-1zM302 249h1v1h-1zM303 248h1v1h-1zM304 247h1v1h-1zM305 246h1v1h-1zM306 245h1v1h-1zM307 244h1v1h-1zM308 243h1v1h-1zM309 242h1v1h-1zM310 241h1v1h-1zM311 240h1v1h-1zM312 239h1v1h-1zM313 238h1v1h-1zM314 237h1v1h-1zM315 236h1v1h-1zM316 235h2v1h-2zM318 234h1v1h-1zM319 233h1v1h-1zM320 232h1v1h-1zM321 231h1v1h-1zM322 230h1v1h-1zM323 229h1v1h-1zM324 228h1v1h-1zM325 227h1v1h-1zM326 226h1v1h-1zM327 225h1v1h-1zM328 224h1v1h-1zM329 223h1v1h-1zM330 222h1v1h-1zM331 221h1v1h-1zM332 220h1v1h-1zM333 219h1v1h-1zM334 218h1v1h-1zM335 217h1v1h-1zM336 216h1v1h-1zM337 215h1v1h-1zM338 214h1v1h-1zM339 213h1v1h-1zM340 212h1v1h-1zM341 211h1v1h-1zM342 210h1v1h-1zM343 209h1v1h-1zM344 208h1v1h-1zM345 207h1v1h-1zM346 206h1v1h-1zM347 205h1v1h-1zM348 204h1v1h-1zM349 203h1v1h-1zM350 202h1v1h-1zM351 201h1v1h-1zM352 200h2v1h-2zM354 199h1v1h-1zM355 198h1v1h-1zM356 197h1v1h-1zM357 196h1v1h-1zM358 195h1v1h-1zM359 194h1v1h-1zM360 193h1v1h-1zM361 192h1v1h-1zM362 191h1v1h-1zM363 190h1v1h-1zM364 189h1v1h-1zM365 188h1v1h-1zM366 187h1v1h-1zM367 186h1v1h-1zM368 185h1v1h-1zM369 184h1v1h-1zM370 183h1v1h-1zM371 182h1v1h-1zM372 181h1v1h-1zM373 180h1v1h-1zM374 179h1v1h-1zM375 178h1v1h-1zM376 177h1v1h-1zM377 176h1v1h-1zM378 175h1v1h-1zM379 174h1v1h-1zM380 173h1v1h-1zM381 172h1v1h-1zM382 171h1v1h-1zM383 170h1v1h-1zM384 169h1v1h-1zM385 168h1v1h-1zM386 167h1v1h-1zM387 166h1v1h-1zM388 165h2v1h-2zM390 164h1v1h-1zM391 163h1v1h-1zM392 162h1v1h-1zM393 161h1v1h-1zM394 160h1v1h-1zM395 159h1v1h-1zM396 158h1v1h-1zM397 157h1v1h-1zM398 156h1v1h-1zM399 155h1v1h-1zM400 154h1v1h-1zM401 153h1v1h-1zM402 152h1v1h-1zM403 151h1v1h-1zM404 150h1v1h-1zM405 149h1v1h-1zM406 148h1v1h-1zM407 147h1v1h-1zM408 146h1v1h-1zM409 145h1v1h-1zM410 144h1v1h-1zM411 143h1v1h-1zM412 142h1v1h-1zM413 141h1v1h-1zM414 140h1v1h-1zM415 139h1v1h-1zM416 138h1v1h-1zM417 137h1v1h-1zM418 136h1v1h-1zM419 135h1v1h-1zM420 134h1v1h-1zM421 133h1v1h-1zM422 132h1v1h-1zM423 131h1v1h-1zM424 130h2v1h-2zM426 129h1v1h-1zM427 128h1v1h-1zM428 127h1v1h-1zM429 126h1v1h-1zM430 125h1v1h-1zM431 124h1v1h-1zM432 123h1v1h-1zM433 122h1v1h-1zM434 121h1v1h-1zM435 120h1v1h-1zM436 119h1v1h-1zM437 118h1v1h-1zM438 117h1v1h-1zM439 116h1v1h-1zM440 115h1v1h-1zM441 114h1v1h-1zM442 113h1v1h-1zM443 112h1v1h-1zM444 111h1v1h-1zM445 110h1v1h-1zM446 109h1v1h-1zM447 108h1v1h-1zM448 107h1v1h-1zM449 106h1v1h-1zM450 105h1v1h-1zM451 104h1v1h-1zM452 103h1v1h-1zM453 102h1v1h-1zM454 101h1v1h-1zM455 100h1v1h-1zM456 99h1v1h-1zM457 98h1v1h-1zM458 97h1v1h-1zM459 96h1v1h-1zM460 95h2v1h-2zM462 94h1v1h-1zM463 93h1v1h-1zM464 92h1v1h-1zM465 91h1v1h-1zM466 90h1v1h-1zM467 89h1v1h-1zM468 88h1v1h-1zM469 87h1v1h-1zM470 86h1v1h-1zM471 85h1v1h-1zM472 84h1v1h-1zM473 83h1v1h-1zM474 82h1v1h-1zM475 81h1v1h-1zM476 80h1v1h-1zM477 79h1v1h-1zM478 78h1v1h-1zM479 77h1v1h-1zM480 76h1v1h-1zM481 75h1v1h-1zM482 74h1v1h-1zM483 73h1v1h-1zM484 72h1v1h-1zM485 71h1v1h-1zM486 70h1v1h-1zM487 69h1v1h-1zM488 68h1v1h-1zM489 67h1v1h-1zM490 66h1v1h-1zM491 65h1v1h-1zM492 64h1v1h-1zM493 63h1v1h-1zM494 62h1v1h-1zM495 61h1v1h-1zM496 60h2v1h-2zM498 59h1v1h-1zM499 58h1v1h-1zM500 57h1v1h-1zM501 56h1v1h-1zM502 55h1v1h-1zM503 54h1v1h-1zM504 53h1v1h-1zM505 52h1v1h-1zM506 51h1v1h-1zM507 50h1v1h-1zM508 49h1v1h-1zM509 48h1v1h-1zM510 47h1v1h-1zM511 46h1v1h-1zM512 45h1v1h-1zM513 44h1v1h-1zM514 43h1v1h-1zM515 42h1v1h-1zM516 41h1v1h-1zM517 40h1v1h-1zM518 39h1v1h-1zM519 38h1v1h-1zM520 37h1v1h-1zM521 36h1v1h-1zM522 35h1v1h-1zM523 34h1v1h-1zM524 33h1v1h-1zM525 32h1v1h-1zM526 31h1v1h-1zM527 30h1v1h-1zM528 29h1v1h-1zM529 28h1v1h-1zM530 27h1v1h-1zM531 26h2v1h-2zM207 394h1v1h-1zM208 393h1v1h-1zM209 392h1v1h-1zM210 391h1v1h-1zM211 390h1v1h-1zM212 389h1v1h-1zM213 388h1v1h-1zM214 387h1v1h-1zM215 386h1v1h-1zM216 385h1v1h-1zM217 384h1v1h-1zM218 383h1v1h-1zM219 382h1v1h-1zM220 381h1v1h-1zM221 380h1v1h-1zM222 379h1v1h-1zM223 378h1v1h-1zM224 377h1v1h-1zM225 376h1v1h-1zM226 375h1v1h-1zM227 374h1v1h-1zM228 373h1v1h-1zM229 372h1v1h-1zM230 371h1v1h-1zM231 370h1v1h-1zM232 369h1v1h-1zM233 368h1v1h-1zM234 367h1v1h-1zM235 366h1v1h-1zM236 365h1v1h-1zM237 364h1v1h-1zM238 363h1v1h-1zM239 362h1v1h-1zM240 361h1v1h-1zM241 360h1v1h-1zM242 359h2v1h-2zM244 358h1v1h-1zM245 357h1v1h-1zM246 356h1v1h-1zM247 355h1v1h-1zM248 354h1v1h-1zM249 353h1v1h-1zM250 352h1v1h-1zM251 351h1v1h-1zM252 350h1v1h-1zM253 349h1v1h-1zM254 348h1v1h-1zM255 347h1v1h-1zM256 346h1v1h-1zM257 345h1v1h-1zM258 344h1v1h-1zM259 343h1v1h-1zM260 342h1v1h-1zM261 341h1v1h-1zM262 340h1v1h-1zM263 339h1v1h-1zM264 338h1v1h-1zM265 337h1v1h-1zM266 336h1v1h-1zM267 335h1v1h-1zM268 334h1v1h-1zM269 333h1v1h-1zM270 332h1v1h-1zM271 331h1v1h-1zM272 330h1v1h-1zM273 329h1v1h-1zM274 328h1v1h-1zM275 327h1v1h-1zM276 326h1v1h-1zM277 325h2v1h-2zM279 324h1v1h-1zM280 323h1v1h-1zM281 322h1v1h-1zM282 321h1v1h-1zM283 320h1v1h-1zM284 319h1v1h-1zM285 318h1v1h-1zM286 317h1v1h-1zM287 316h1v1h-1zM288 315h1v1h-1zM289 314h1v1h-1zM290 313h1v1h-1zM291 312h1v1h-1zM292 311h1v1h-1zM293 310h1v1h-1zM294 309h1v1h-1zM295 308h1v1h-1zM296 307h1v1h-1zM297 306h1v1h-1zM298 305h1v1h-1zM299 304h1v1h-1zM300 303h1v1h-1zM301 302h1v1h-1zM302 301h1v1h-1zM303 300h1v1h-1zM304 299h1v1h-1zM305 298h1v1h-1zM306 297h1v1h-1zM307 296h1v1h-1zM308 295h1v1h-1zM309 294h1v1h-1zM310 293h1v1h-1zM311 292h1v1h-1zM312 291h2v1h-2zM314 290h1v1h-1zM315 289h1v1h-1zM316 288h1v1h-1zM317 287h1v1h-1zM318 286h1v1h-1zM319 285h1v1h-1zM320 284h1v1h-1zM321 283h1v1h-1zM322 282h1v1h-1zM323 281h1v1h-1zM324 280h1v1h-1zM325 279h1v1h-1zM326 278h1v1h-1zM327 277h1v1h-1zM328 276h1v1h-1zM329 275h1v1h-1zM330 274h1v1h-1zM331 273h1v1h-1zM332 272h1v1h-1zM333 271h1v1h-1zM334 270h1v1h-1zM335 269h1v1h-1zM336 268h1v1h-1zM337 267h1v1h-1zM338 266h1v1h-1zM339 265h1v1h-1zM340 264h1v1h-1zM341 263h1v1h-1zM342 262h1v1h-1zM343 261h1v1h-1zM344 260h1v1h-1zM345 259h1v1h-1zM346 258h1v1h-1zM347 257h2v1h-2zM349 256h1v1h-1zM350 255h1v1h-1zM351 254h1v1h-1zM352 253h1v1h-1zM353 252h1v1h-1zM354 251h1v1h-1zM355 250h1v1h-1zM356 249h1v1h-1zM357 248h1v1h-1zM358 247h1v1h-1zM359 246h1v1h-1zM360 245h1v1h-1zM361 244h1v1h-1zM362 243h1v1h-1zM363 242h1v1h-1zM364 241h1v1h-1zM365 240h1v1h-1zM366 239h1v1h-1zM367 238h1v1h-1zM368 237h1v1h-1zM369 236h1v1h-1zM370 235h1v1h-1zM371 234h1v1h-1zM372 233h1v1h-1zM373 232h1v1h-1zM374 231h1v1h-1zM375 230h1v1h-1zM376 229h1v1h-1zM377 228h1v1h-1zM378 227h1v1h-1zM379 226h1v1h-1zM380 225h1v1h-1zM381 224h1v1h-1zM382 223h2v1h-2zM384 222h1v1h-1zM385 221h1v1h-1zM386 220h1v1h-1zM387 219h1v1h-1zM388 218h1v1h-1zM389 217h1v1h-1zM390 216h1v1h-1zM391 215h1v1h-1zM392 214h1v1h-1zM393 213h1v1h-1zM394 212h1v1h-1zM395 211h1v1h-1zM396 210h1v1h-1zM397 209h1v1h-1zM398 208h1v1h-1zM399 207h1v1h-1zM400 206h1v1h-1zM401 205h1v1h-1zM402 204h1v1h-1zM403 203h1v1h-1zM404 202h1v1h-1zM405 201h1v1h-1zM406 200h1v1h-1zM407 199h1v1h-1zM408 198h1v1h-1zM409 197h1v1h-1zM410 196h1v1h-1zM411 195h1v1h-1zM412 194h1v1h-1zM413 193h1v1h-1zM414 192h1v1h-1zM415 191h1v1h-1zM416 190h1v1h-1zM417 189h2v1h-2zM419 188h1v1h-1zM420 187h1v1h-1zM421 186h1v1h-1zM422 185h1v1h-1zM423 184h1v1h-1zM424 183h1v1h-1zM425 182h1v1h-1zM426 181h1v1h-1zM427 180h1v1h-1zM428 179h1v1h-1zM429 178h1v1h-1zM430 177h1v1h-1zM431 176h1v1h-1zM432 175h1v1h-1zM433 174h1v1h-1zM434 173h1v1h-1zM435 172h1v1h-1zM436 171h1v1h-1zM437 170h1v1h-1zM438 169h1v1h-1zM439 168h1v1h-1zM440 167h1v1h-1zM441 166h1v1h-1zM442 165h1v1h-1zM443 164h1v1h-1zM444 163h1v1h-1zM445 162h1v1h-1zM446 161h1v1h-1zM447 160h1v1h-1zM448 159h1v1h-1zM449 158h1v1h-1zM450 157h1v1h-1zM451 156h1v1h-1zM452 155h2v1h-2zM454 154h1v1h-1zM455 153h1v1h-1zM456 152h1v1h-1zM457 151h1v1h-1zM458 150h1v1h-1zM459 149h1v1h-1zM460 148h1v1h-1zM461 147h1v1h-1zM462 146h1v1h-1zM463 145h1v1h-1zM464 144h1v1h-1zM465 143h1v1h-1zM466 142h1v1h-1zM467 141h1v1h-1zM468 140h1v1h-1zM469 139h1v1h-1zM470 138h1v1h-1zM471 137h1v1h-1zM472 136h1v1h-1zM473 135h1v1h-1zM474 134h1v1h-1zM475 133h1v1h-1zM476 132h1v1h-1zM477 131h1v1h-1zM478 130h1v1h-1zM479 129h1v1h-1zM480 128h1v1h-1zM481 127h1v1h-1zM482 126h1v1h-1zM483 125h1v1h-1zM484 124h1v1h-1zM485 123h1v1h-1zM486 122h1v1h-1zM487 121h2v1h-2zM489 120h1v1h-1zM490 119h1v1h-1zM491 118h1v1h-1zM492 117h1v1h-1zM493 116h1v1h-1zM494 115h1v1h-1zM495 114h1v1h-1zM496 113h1v1h-1zM497 112h1v1h-1zM498 111h1v1h-1zM499 110h1v1h-1zM500 109h1v1h-1zM501 108h1v1h-1zM502 107h1v1h-1zM503 106h1v1h-1zM504 105h1v1h-1zM505 104h1v1h-1zM506 103h1v1h-1zM507 102h1v1h-1zM508 101h1v1h-1zM509 100h1v1h-1zM510 99h1v1h-1zM511 98h1v1h-1zM512 97h1v1h-1zM513 96h1v1h-1zM514 95h1v1h-1zM515 94h1v1h-1zM516 93h1v1h-1zM517 92h1v1h-1zM518 91h1v1h-1zM519 90h1v1h-1zM520 89h1v1h-1zM521 88h1v1h-1zM522 87h2v1h-2zM524 86h1v1h-1zM525 85h1v1h-1zM526 84h1v1h-1zM527 83h1v1h-1zM528 82h1v1h-1zM529 81h1v1h-1zM530 80h1v1h-1zM531 79h1v1h-1zM532 78h1v1h-1zM533 77h1v1h-1zM534 76h1v1h-1zM535 75h1v1h-1zM536 74h1v1h-1zM537 73h1v1h-1zM538 72h1v1h-1zM539 71h1v1h-1zM540 70h1v1h-1zM541 69h1v1h-1zM542 68h1v1h-1zM543 67h1v1h-1zM544 66h1v1h-1zM545 65h1v1h-1zM546 64h1v1h-1zM547 63h1v1h-1zM548 62h1v1h-1zM549 61h1v1h-1zM550 60h1v1h-1zM551 59h1v1h-1zM552 58h1v1h-1zM553 57h1v1h-1zM554 56h1v1h-1zM555 55h1v1h-1zM556 54h1v1h-1zM557 53h2v1h-2zM559 52h1v1h-1zM560 51h1v1h-1zM561 50h1v1h-1zM562 49h1v1h-1zM563 48h1v1h-1zM564 47h1v1h-1zM565 46h1v1h-1zM566 45h1v1h-1zM567 44h1v1h-1zM568 43h1v1h-1zM569 42h1v1h-1zM570 41h1v1h-1zM571 40h1v1h-1zM572 39h1v1h-1zM573 38h1v1h-1zM574 37h1v1h-1zM575 36h1v1h-1zM576 35h1v1h-1zM577 34h1v1h-1zM578 33h1v1h-1zM579 32h1v1h-1zM580 31h1v1h-1zM581 30h1v1h-1zM582 29h1v1h-1zM583 28h1v1h-1zM584 27h1v1h-1zM585 26h1v1h-1zM586 25h1v1h-1zM214 439h1v1h-1zM215 438h1v1h-1zM216 437h1v1h-1zM217 436h1v1h-1zM218 435h1v1h-1zM219 434h1v1h-1zM220 433h1v1h-1zM221 432h1v1h-1zM222 431h1v1h-1zM223 430h1v1h-1zM224 429h1v1h-1zM225 428h1v1h-1zM226 427h1v1h-1zM227 426h1v1h-1zM228 425h1v1h-1zM229 424h1v1h-1zM230 423h1v1h-1zM231 422h2v1h-2zM233 421h1v1h-1zM234 420h1v1h-1zM235 419h1v1h-1zM236 418h1v1h-1zM237 417h1v1h-1zM238 416h1v1h-1zM239 415h1v1h-1zM240 414h1v1h-1zM241 413h1v1h-1zM242 412h1v1h-1zM243 411h1v1h-1zM244 410h1v1h-1zM245 409h1v1h-1zM246 408h1v1h-1zM247 407h1v1h-1zM248 406h1v1h-1zM249 405h1v1h-1zM250 404h1v1h-1zM251 403h1v1h-1zM252 402h1v1h-1zM253 401h1v1h-1zM254 400h1v1h-1zM255 399h1v1h-1zM256 398h1v1h-1zM257 397h1v1h-1zM258 396h1v1h-1zM259 395h1v1h-1zM260 394h1v1h-1zM261 393h1v1h-1zM262 392h1v1h-1zM263 391h1v1h-1zM264 390h1v1h-1zM265 389h1v1h-1zM266 388h1v1h-1zM267 387h2v1h-2zM269 386h1v1h-1zM270 385h1v1h-1zM271 384h1v1h-1zM272 383h1v1h-1zM273 382h1v1h-1zM274 381h1v1h-1zM275 380h1v1h-1zM276 379h1v1h-1zM277 378h1v1h-1zM278 377h1v1h-1zM279 376h1v1h-1zM280 375h1v1h-1zM281 374h1v1h-1zM282 373h1v1h-1zM283 372h1v1h-1zM284 371h1v1h-1zM285 370h1v1h-1zM286 369h1v1h-1zM287 368h1v1h-1zM288 367h1v1h-1zM289 366h1v1h-1zM290 365h1v1h-1zM291 364h1v1h-1zM292 363h1v1h-1zM293 362h1v1h-1zM294 361h1v1h-1zM295 360h1v1h-1zM296 359h1v1h-1zM297 358h1v1h-1zM298 357h1v1h-1zM299 356h1v1h-1zM300 355h1v1h-1zM301 354h1v1h-1zM302 353h1v1h-1zM303 352h2v1h-2zM305 351h1v1h-1zM306 350h1v1h-1zM307 349h1v1h-1zM308 348h1v1h-1zM309 347h1v1h-1zM310 346h1v1h-1zM311 345h1v1h-1zM312 344h1v1h-1zM313 343h1v1h-1zM314 342h1v1h-1zM315 341h1v1h-1zM316 340h1v1h-1zM317 339h1v1h-1zM318 338h1v1h-1zM319 337h1v1h-1zM320 336h1v1h-1zM321 335h1v1h-1zM322 334h1v1h-1zM323 333h1v1h-1zM324 332h1v1h-1zM325 331h1v1h-1zM326 330h1v1h-1zM327 329h1v1h-1zM328 328h1v1h-1zM329 327h1v1h-1zM330 326h1v1h-1zM331 325h1v1h-1zM332 324h1v1h-1zM333 323h1v1h-1zM334 322h1v1h-1zM335 321h1v1h-1zM336 320h1v1h-1zM337 319h1v1h-1zM338 318h1v1h-1zM339 317h2v1h-2zM341 316h1v1h-1zM342 315h1v1h-1zM343 314h1v1h-1zM344 313h1v1h-1zM345 312h1v1h-1zM346 311h1v1h-1zM347 310h1v1h-1zM348 309h1v1h-1zM349 308h1v1h-1zM350 307h1v1h-1zM351 306h1v1h-1zM352 305h1v1h-1zM353 304h1v1h-1zM354 303h1v1h-1zM355 302h1v1h-1zM356 301h1v1h-1zM357 300h1v1h-1zM358 299h1v1h-1zM359 298h1v1h-1zM360 297h1v1h-1zM361 296h1v1h-1zM362 295h1v1h-1zM363 294h1v1h-1zM364 293h1v1h-1zM365 292h1v1h-1zM366 291h1v1h-1zM367 290h1v1h-1zM368 289h1v1h-1zM369 288h1v1h-1zM370 287h1v1h-1zM371 286h1v1h-1zM372 285h1v1h-1zM373 284h1v1h-1zM374 283h2v1h-2zM376 282h1v1h-1zM377 281h1v1h-1zM378 280h1v1h-1zM379 279h1v1h-1zM380 278h1v1h-1zM381 277h1v1h-1zM382 276h1v1h-1zM383 275h1v1h-1zM384 274h1v1h-1zM385 273h1v1h-1zM386 272h1v1h-1zM387 271h1v1h-1zM388 270h1v1h-1zM389 269h1v1h-1zM390 268h1v1h-1zM391 267h1v1h-1zM392 266h1v1h-1zM393 265h1v1h-1zM394 264h1v1h-1zM395 263h1v1h-1zM396 262h1v1h-1zM397 261h1v1h-1zM398 260h1v1h-1zM399 259h1v1h-1zM400 258h1v1h-1zM401 257h1v1h-1zM402 256h1v1h-1zM403 255h1v1h-1zM404 254h1v1h-1zM405 253h1v1h-1zM406 252h1v1h-1zM407 251h1v1h-1zM408 250h1v1h-1zM409 249h1v1h-1zM410 248h2v1h-2zM412 247h1v1h-1zM413 246h1v1h-1zM414 245h1v1h-1zM415 244h1v1h-1zM416 243h1v1h-1zM417 242h1v1h-1zM418 241h1v1h-1zM419 240h1v1h-1zM420 239h1v1h-1zM421 238h1v1h-1zM422 237h1v1h-1zM423 236h1v1h-1zM424 235h1v1h-1zM425 234h1v1h-1zM426 233h1v1h-1zM427 232h1v1h-1zM428 231h1v1h-1zM429 230h1v1h-1zM430 229h1v1h-1zM431 228h1v1h-1zM432 227h1v1h-1zM433 226h1v1h-1zM434 225h1v1h-1zM435 224h1v1h-1zM436 223h1v1h-1zM437 222h1v1h-1zM438 221h1v1h-1zM439 220h1v1h-1zM440 219h1v1h-1zM441 218h1v1h-1zM442 217h1v1h-1zM443 216h1v1h-1zM444 215h1v1h-1zM445 214h1v1h-1zM446 213h2v1h-2zM448 212h1v1h-1zM449 211h1v1h-1zM450 210h1v1h-1zM451 209h1v1h-1zM452 208h1v1h-1zM453 207h1v1h-1zM454 206h1v1h-1zM455 205h1v1h-1zM456 204h1v1h-1zM457 203h1v1h-1zM458 202h1v1h-1zM459 201h1v1h-1zM460 200h1v1h-1zM461 199h1v1h-1zM462 198h1v1h-1zM463 197h1v1h-1zM464 196h1v1h-1zM465 195h1v1h-1zM466 194h1v1h-1zM467 193h1v1h-1zM468 192h1v1h-1zM469 191h1v1h-1zM470 190h1v1h-1zM471 189h1v1h-1zM472 188h1v1h-1zM473 187h1v1h-1zM474 186h1v1h-1zM475 185h1v1h-1zM476 184h1v1h-1zM477 183h1v1h-1zM478 182h1v1h-1zM479 181h1v1h-1zM480 180h1v1h-1zM481 179h1v1h-1zM482 178h2v1h-2zM484 177h1v1h-1zM485 176h1v1h-1zM486 175h1v1h-1zM487 174h1v1h-1zM488 173h1v1h-1zM489 172h1v1h-1zM490 171h1v1h-1zM491 170h1v1h-1zM492 169h1v1h-1zM493 168h1v1h-1zM494 167h1v1h-1zM495 166h1v1h-1zM496 165h1v1h-1zM497 164h1v1h-1zM498 163h1v1h-1zM499 162h1v1h-1zM500 161h1v1h-1zM501 160h1v1h-1zM502 159h1v1h-1zM503 158h1v1h-1zM504 157h1v1h-1zM505 156h1v1h-1zM506 155h1v1h-1zM507 154h1v1h-1zM508 153h1v1h-1zM509 152h1v1h-1zM510 151h1v1h-1zM511 150h1v1h-1zM512 149h1v1h-1zM513 148h1v1h-1zM514 147h1v1h-1zM515 146h1v1h-1zM516 145h1v1h-1zM517 144h1v1h-1zM518 143h2v1h-2zM520 142h1v1h-1zM521 141h1v1h-1zM522 140h1v1h-1zM523 139h1v1h-1zM524 138h1v1h-1zM525 137h1v1h-1zM526 136h1v1h-1zM527 135h1v1h-1zM528 134h1v1h-1zM529 133h1v1h-1zM530 132h1v1h-1zM531 131h1v1h-1zM532 130h1v1h-1zM533 129h1v1h-1zM534 128h1v1h-1zM535 127h1v1h-1zM536 126h1v1h-1zM537 125h1v1h-1zM538 124h1v1h-1zM539 123h1v1h-1zM540 122h1v1h-1zM541 121h1v1h-1zM542 120h1v1h-1zM543 119h1v1h-1zM544 118h1v1h-1zM545 117h1v1h-1zM546 116h1v1h-1zM547 115h1v1h-1zM548 114h1v1h-1zM549 113h1v1h-1zM550 112h1v1h-1zM551 111h1v1h-1zM552 110h1v1h-1zM553 109h1v1h-1zM554 108h2v1h-2zM556 107h1v1h-1zM557 106h1v1h-1zM558 105h1v1h-1zM559 104h1v1h-1zM560 103h1v1h-1zM561 102h1v1h-1zM562 101h1v1h-1zM563 100h1v1h-1zM564 99h1v1h-1zM565 98h1v1h-1zM566 97h1v1h-1zM567 96h1v1h-1zM568 95h1v1h-1zM569 94h1v1h-1zM570 93h1v1h-1zM571 92h1v1h-1zM572 91h1v1h-1zM573 90h1v1h-1zM574 89h1v1h-1zM575 88h1v1h-1zM576 87h1v1h-1zM577 86h1v1h-1zM578 85h1v1h-1zM579 84h1v1h-1zM580 83h1v1h-1zM581 82h1v1h-1zM582 81h1v1h-1zM583 80h1v1h-1zM584 79h1v1h-1zM585 78h1v1h-1zM586 77h1v1h-1zM587 76h1v1h-1zM588 75h1v1h-1zM589 74h1v1h-1zM590 73h2v1h-2zM592 72h1v1h-1zM593 71h1v1h-1zM594 70h1v1h-1zM595 69h1v1h-1zM596 68h1v1h-1zM597 67h1v1h-1zM598 66h1v1h-1zM599 65h1v1h-1zM600 64h1v1h-1zM601 63h1v1h-1zM602 62h1v1h-1zM603 61h1v1h-1zM604 60h1v1h-1zM605 59h1v1h-1zM606 58h1v1h-1zM607 57h1v1h-1zM608 56h1v1h-1zM609 55h1v1h-1zM610 54h1v1h-1zM611 53h1v1h-1zM612 52h1v1h-1zM613 51h1v1h-1zM614 50h1v1h-1zM615 49h1v1h-1zM616 48h1v1h-1zM617 47h1v1h-1zM618 46h1v1h-1zM619 45h1v1h-1zM6 313h5v1h-5zM11 312h6v1h-6zM17 311h6v1h-6zM23 310h6v1h-6zM29 309h4v1h-4zM6 357h1v1h-1zM7 356h3v1h-3zM10 355h3v1h-3zM13 354h3v1h-3zM16 353h3v1h-3zM19 352h3v1h-3zM22 351h3v1h-3zM25 350h3v1h-3zM68 427h1v1h-1zM69 428h1v2h-1zM70 430h1v3h-1zM71 433h1v2h-1zM72 435h1v2h-1zM73 437h1v2h-1zM74 439h1v2h-1zM75 441h1v3h-1zM76 444h1v2h-1zM77 446h1v2h-1zM78 448h1v2h-1zM79 450h1v2h-1zM80 452h1v3h-1zM81 455h1v2h-1zM82 457h1v2h-1zM83 459h1v2h-1zM84 461h1v3h-1zM85 464h1v2h-1zM62 486h3v1h-3zM65 487h3v1h-3zM68 488h3v1h-3zM71 489h4v1h-4zM75 490h3v1h-3zM78 491h3v1h-3zM81 492h3v1h-3zM84 493h3v1h-3z"/>
<path fill="#0000ff" shape-rendering="crispEdges" d="M444 47h137v1h-137zM403 103h169v1h-169z"/>
<path fill="#800000" shape-rendering="crispEdges" d="M346 208h1v1h-1zM347 207h5v1h-5zM352 206h5v1h-5z"/>
<path fill="#000080" shape-rendering="crispEdges" d="M499 77h1v1h-1zM500 78h1v1h-1zM501 79h1v1h-1zM502 80h1v1h-1zM503 81h1v1h-1zM504 82h2v1h-2zM506 83h1v1h-1zM507 84h1v1h-1zM508 85h1v1h-1zM509 86h1v1h-1zM510 87h1v1h-1zM511 88h1v1h-1zM512 89h1v1h-1zM513 90h1v1h-1zM514 91h1v1h-1zM515 92h1v1h-1zM516 93h1v1h-1zM517 94h1v1h-1zM518 95h1v1h-1zM519 96h1v1h-1zM520 97h1v1h-1zM521 98h1v1h-1zM522 99h1v1h-1zM523 100h1v1h-1zM524 101h1v1h-1zM525 102h1v1h-1zM526 103h1v1h-1zM527 104h1v1h-1zM528 105h1v1h-1zM478 141h2v1h-2zM480 140h2v1h-2zM482 139h2v1h-2zM484 138h3v1h-3zM487 137h2v1h-2zM489 136h3v1h-3zM492 135h2v1h-2zM494 134h2v1h-2zM496 133h3v1h-3zM499 132h2v1h-2zM501 131h2v1h-2zM503 130h3v1h-3zM506 129h2v1h-2zM508 128h2v1h-2zM510 127h3v1h-3zM513 126h2v1h-2zM515 125h2v1h-2zM517 124h3v1h-3zM520 123h2v1h-2zM522 122h2v1h-2zM524 121h3v1h-3z"/>
<path fill="#0000ff" shape-rendering="crispEdges" d="M552 76h1v3h-1zM551 79h1v2h-1zM550 81h1v3h-1zM549 84h1v2h-1zM548 86h1v3h-1zM547 89h1v2h-1zM546 91h1v3h-1zM545 94h1v2h-1zM544 96h1v3h-1zM543 99h1v2h-1zM542 101h1v3h-1zM541 104h1v2h-1zM540 106h1v3h-1zM539 109h1v2h-1zM538 111h1v3h-1zM537 114h1v1h-1z"/>
<path fill="#0000ff" d="M554.8 69.5 L555.4 81.5 L548.4 78.5 Z"/>
<ellipse cx="20.6" cy="288" rx="6.8" ry="6.3" fill="none" stroke="#000" stroke-width="1.6"/>
<text x="20.6" y="291.0" text-anchor="middle" class="serif b" font-size="9" fill="#000" stroke="#000" stroke-width="0.3">▾</text>
<ellipse cx="85.3" cy="501" rx="6.8" ry="6.3" fill="none" stroke="#000" stroke-width="1.6"/>
<text x="85.3" y="504.0" text-anchor="middle" class="serif b" font-size="11" fill="#000" stroke="#000" stroke-width="0.3">a</text>
<ellipse cx="116.7" cy="403.1" rx="6.8" ry="6.3" fill="none" stroke="#000" stroke-width="1.6"/>
<text x="116.7" y="406.6" text-anchor="middle" class="serif b" font-size="11" fill="#000" stroke="#000" stroke-width="0.3">b</text>
<ellipse cx="130.3" cy="523.6" rx="6.8" ry="6.3" fill="none" stroke="#000" stroke-width="1.6"/>
<text x="130.3" y="526.6" text-anchor="middle" class="serif b" font-size="11" fill="#000" stroke="#000" stroke-width="0.3">c</text>
<ellipse cx="176.6" cy="360.8" rx="6.8" ry="6.3" fill="none" stroke="#000" stroke-width="1.6"/>
<text x="176.6" y="364.6" text-anchor="middle" class="serif b" font-size="12" fill="#000" stroke="#000" stroke-width="0.3">i</text>
<ellipse cx="213.6" cy="449.6" rx="6.8" ry="6.3" fill="none" stroke="#000" stroke-width="1.6"/>
<text x="213.6" y="453.1" text-anchor="middle" class="serif b" font-size="11" fill="#000" stroke="#000" stroke-width="0.3">ii</text>
<ellipse cx="390.3" cy="146.3" rx="6.8" ry="6.3" fill="none" stroke="#000" stroke-width="1.6"/>
<text x="390.3" y="149.3" text-anchor="middle" class="serif b" font-size="10" fill="#000" stroke="#000" stroke-width="0.3">iii</text>
<ellipse cx="414.4" cy="202.7" rx="6.8" ry="6.3" fill="none" stroke="#000" stroke-width="1.6"/>
<text x="414.4" y="205.7" text-anchor="middle" class="serif b" font-size="10" fill="#000" stroke="#000" stroke-width="0.3">iv</text>
<ellipse cx="558.4" cy="54" rx="6.8" ry="6.3" fill="none" stroke="#000" stroke-width="1.6"/>
<text x="558.4" y="57.0" text-anchor="middle" class="serif b" font-size="9" fill="#000" stroke="#000" stroke-width="0.3">▾</text>
<ellipse cx="374.7" cy="42.2" rx="6.8" ry="6.3" fill="none" stroke="#0000ff" stroke-width="1.6"/>
<text x="374.7" y="45.2" text-anchor="middle" class="serif b" font-size="9" fill="#0000ff" stroke="#0000ff" stroke-width="0.3">▾</text>
<ellipse cx="411.3" cy="42.2" rx="6.8" ry="6.3" fill="none" stroke="#0000ff" stroke-width="1.6"/>
<text x="411.3" y="46.0" text-anchor="middle" class="serif b" font-size="12" fill="#0000ff" stroke="#0000ff" stroke-width="0.3">i</text>
<ellipse cx="306.5" cy="103.3" rx="6.8" ry="6.3" fill="none" stroke="#0000ff" stroke-width="1.6"/>
<text x="306.5" y="106.3" text-anchor="middle" class="serif b" font-size="9" fill="#0000ff" stroke="#0000ff" stroke-width="0.3">▾</text>
<ellipse cx="382.7" cy="103.3" rx="6.8" ry="6.3" fill="none" stroke="#0000ff" stroke-width="1.6"/>
<text x="382.7" y="107.1" text-anchor="middle" class="serif b" font-size="12" fill="#0000ff" stroke="#0000ff" stroke-width="0.3">i</text>
</g>
<text x="33" y="77.8" class="serif b" font-size="20.5" fill="#000" textLength="316.5" lengthAdjust="spacingAndGlyphs">Still a Few More Subdivisions to Go</text>
<text x="132.3" y="99.7" class="serif" font-size="16" fill="#000" textLength="129" lengthAdjust="spacingAndGlyphs">DJIA, 60-minute Bar</text>
<text x="226.5" y="268" text-anchor="middle" class="serif b" font-size="12" fill="#ff0000" textLength="75" lengthAdjust="spacingAndGlyphs">riding the red</text>
<text x="226" y="282.7" text-anchor="middle" class="serif b" font-size="12" fill="#ff0000" textLength="80" lengthAdjust="spacingAndGlyphs">resistance line</text>
<text x="547.8" y="511.6" text-anchor="middle" class="serif b" font-size="10.5" fill="#000" textLength="90.7" lengthAdjust="spacingAndGlyphs">Copyright, May 2007</text>
<text x="546.6" y="523.6" text-anchor="middle" class="serif b" font-size="10.5" fill="#000" textLength="113.2" lengthAdjust="spacingAndGlyphs">Elliott Wave International</text>
<text x="548.9" y="535.5" text-anchor="middle" class="serif b" font-size="10.5" fill="#000" textLength="89.7" lengthAdjust="spacingAndGlyphs">www.elliottwave.com</text>
</svg></body></html>
